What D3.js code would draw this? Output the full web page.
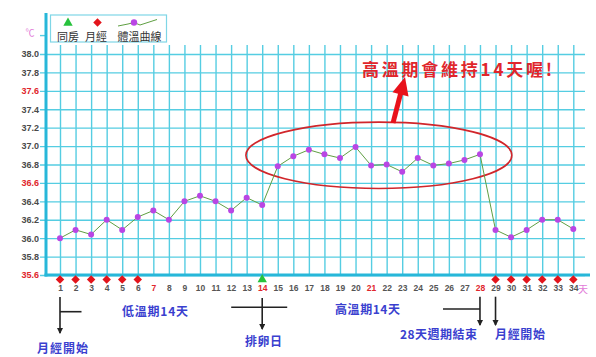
<!DOCTYPE html>
<html>
<head>
<meta charset="utf-8">
<script src="https://cdn.jsdelivr.net/npm/d3@7"></script>
<style>
body{margin:0;background:#fff;}
svg{display:block;}
</style>
</head>
<body>
<svg class="bbt-chart"></svg>
<script>
var days = [1,2,3,4,5,6,7,8,9,10,11,12,13,14,15,16,17,18,19,20,21,22,23,24,25,26,27,28,29,30,31,32,33,34];
var temps = [36.0,36.09,36.04,36.2,36.09,36.23,36.3,36.2,36.4,36.46,36.4,36.3,36.44,36.36,
             36.78,36.89,36.96,36.91,36.87,36.99,36.79,36.8,36.72,36.87,36.79,36.81,36.85,36.91,
             36.09,36.01,36.09,36.2,36.2,36.1];
var mensesDays = [1,2,3,4,5,6,29,30,31,32,33,34];
var intercourseDays = [14];
var yTicks = [35.6,35.8,36.0,36.2,36.4,36.6,36.8,37.0,37.2,37.4,37.6,37.8,38.0];
var redDays = [7,14,21,28];
var redTemps = [35.6,36.6,37.6];
var legendLabels = ["同房","月經","體溫曲線"];

var cfg = {
  width : 596,
  height : 357,
  gridColor : "#55cde2",
  axisColor : "#27b7d9",
  labelColor : "#4a4a4a",
  red : "#e0262c",
  pink : "#e27ad8",
  blue : "#3a3fcf",
  lineColor : "#5f9f42",
  dotColor : "#b946e4",
  numFont : "'Liberation Sans', Arial, sans-serif",
  cjkFont : "'Noto Sans CJK TC', 'Noto Sans CJK SC', sans-serif"
};

var svg = d3.select(".bbt-chart")
  .attr("width", cfg.width)
  .attr("height", cfg.height);

var x = d3.scaleLinear().domain([1, 34]).range([60, 573.3]);
var y = d3.scaleLinear().domain([35.6, 38.0]).range([275, 54]);

//horizontal grid + y labels
var yAxis = d3.axisLeft(y)
  .tickValues(yTicks)
  .tickSizeInner(-(585 - 40))
  .tickSizeOuter(0)
  .tickPadding(1)
  .tickFormat(d3.format(".1f"));
var gy = svg.append("g").attr("transform", "translate(40,0)").call(yAxis);
gy.select(".domain").remove();
gy.selectAll("line").attr("stroke", cfg.gridColor).attr("stroke-width", 1.4);
gy.selectAll("text")
  .attr("font-family", cfg.numFont)
  .attr("font-size", 9)
  .attr("font-weight", "bold")
  .attr("fill", function(d){ return redTemps.indexOf(d) !== -1 ? cfg.red : cfg.labelColor; });

//vertical grid + day labels
var xAxis = d3.axisBottom(x)
  .tickValues(days)
  .tickSizeInner(-(275 - 45))
  .tickSizeOuter(0)
  .tickPadding(10);
var gx = svg.append("g").attr("transform", "translate(0,275)").call(xAxis);
gx.select(".domain").remove();
gx.selectAll("line").attr("stroke", cfg.gridColor).attr("stroke-width", 1.4);
gx.selectAll("text")
  .attr("font-family", cfg.numFont)
  .attr("font-size", 8.5)
  .attr("font-weight", "bold")
  .attr("fill", function(d){ return redDays.indexOf(d) !== -1 ? cfg.red : "#555"; });

svg.append("text")
  .text("天")
  .attr("x", 583).attr("y", 288)
  .attr("text-anchor", "middle").attr("dominant-baseline", "central")
  .attr("font-family", cfg.cjkFont).attr("font-size", 10)
  .attr("fill", cfg.pink);

//unit tick above 38.0
svg.append("line")
  .attr("x1", 40).attr("x2", 46)
  .attr("y1", y(38.2)).attr("y2", y(38.2))
  .attr("stroke", cfg.gridColor).attr("stroke-width", 1.4);
svg.append("text")
  .text("℃")
  .attr("x", 30).attr("y", y(38.2) - 3)
  .attr("text-anchor", "middle").attr("dominant-baseline", "central")
  .attr("font-family", cfg.cjkFont).attr("font-size", 9)
  .attr("fill", cfg.pink);

//main axis lines
svg.append("line")
  .attr("x1", 46).attr("x2", 46).attr("y1", 13).attr("y2", 276.5)
  .attr("stroke", cfg.axisColor).attr("stroke-width", 3);
svg.append("line")
  .attr("x1", 44.5).attr("x2", 590).attr("y1", 275).attr("y2", 275)
  .attr("stroke", cfg.axisColor).attr("stroke-width", 3);

//ellipse around the high phase
svg.append("ellipse")
  .attr("cx", x(21.5)).attr("cy", y(36.9))
  .attr("rx", x(21.5) - x(12.95)).attr("ry", y(36.9) - y(37.26))
  .attr("fill", "none")
  .attr("stroke", "#d1262b").attr("stroke-width", 1.6);

//temperature curve
var line = d3.line()
  .x(function(d, i){ return x(days[i]); })
  .y(function(d){ return y(d); });
svg.append("path")
  .datum(temps)
  .attr("d", line)
  .attr("fill", "none")
  .attr("stroke", cfg.lineColor)
  .attr("stroke-width", 1);
svg.selectAll(".dot")
  .data(temps)
  .enter()
  .append("circle")
  .attr("class", "dot")
  .attr("cx", function(d, i){ return x(days[i]); })
  .attr("cy", function(d){ return y(d); })
  .attr("r", 3)
  .attr("fill", cfg.dotColor);

//menses markers and intercourse marker
var diamond = d3.symbol().type(d3.symbolSquare).size(36);
svg.selectAll(".menses")
  .data(mensesDays)
  .enter()
  .append("path")
  .attr("class", "menses")
  .attr("d", diamond)
  .attr("transform", function(d){ return "translate(" + x(d) + ",279.5) rotate(45)"; })
  .attr("fill", "#e3141b");
var tri = d3.symbol().type(d3.symbolTriangle).size(38);
svg.selectAll(".sex")
  .data(intercourseDays)
  .enter()
  .append("path")
  .attr("class", "sex")
  .attr("d", tri)
  .attr("transform", function(d){ return "translate(" + x(d) + ",279.5)"; })
  .attr("fill", "#27c23c");

//legend
var lg = svg.append("g");
lg.append("rect")
  .attr("x", 50.5).attr("y", 15).attr("width", 116).attr("height", 27)
  .attr("fill", "#fff").attr("stroke", "#7fd6e6").attr("stroke-width", 1.2);
lg.append("path").attr("d", tri).attr("transform", "translate(68,23)").attr("fill", "#27c23c");
lg.append("path").attr("d", diamond).attr("transform", "translate(97.5,22.5) rotate(45)").attr("fill", "#e3141b");
lg.append("path")
  .attr("d", "M118,26 L128,24 L134,22.5 L140,25 L157,19.5")
  .attr("fill", "none").attr("stroke", cfg.lineColor).attr("stroke-width", 1);
lg.append("circle").attr("cx", 134).attr("cy", 22.5).attr("r", 3.2).attr("fill", cfg.dotColor);
var legendX = [68, 96, 139.5];
lg.selectAll(".lg-text")
  .data(legendLabels)
  .enter()
  .append("text")
  .attr("class", "lg-text")
  .text(function(d){ return d; })
  .attr("x", function(d, i){ return legendX[i]; })
  .attr("y", 35.5)
  .attr("text-anchor", "middle").attr("dominant-baseline", "central")
  .attr("font-family", cfg.cjkFont).attr("font-size", 11)
  .attr("fill", "#333");

//red callout
svg.append("text")
  .text("高溫期會維持14天喔!")
  .attr("x", 362).attr("y", 68)
  .attr("dominant-baseline", "central")
  .attr("textLength", 190).attr("lengthAdjust", "spacing")
  .attr("font-family", cfg.cjkFont).attr("font-size", 17).attr("font-weight", "bold")
  .attr("fill", cfg.red);
svg.append("line")
  .attr("x1", 393).attr("y1", 123).attr("x2", 401).attr("y2", 92)
  .attr("stroke", "#e8121b").attr("stroke-width", 5);
svg.append("path")
  .attr("d", "M405,77 L408.5,96.5 L392.5,92.2 Z")
  .attr("fill", "#e8121b");

//bottom annotations
svg.append("defs").append("marker")
  .attr("id", "ah")
  .attr("viewBox", "0 0 6 6")
  .attr("refX", 5).attr("refY", 3)
  .attr("markerWidth", 4).attr("markerHeight", 4)
  .attr("orient", "auto")
  .append("path").attr("d", "M0,0 L6,3 L0,6 Z").attr("fill", "#222");

function arrow(xp, y1, y2){
  svg.append("line")
    .attr("x1", xp).attr("x2", xp).attr("y1", y1).attr("y2", y2)
    .attr("stroke", "#222").attr("stroke-width", 1.6)
    .attr("marker-end", "url(#ah)");
}
function hline(x1, x2, yp){
  svg.append("line")
    .attr("x1", x1).attr("x2", x2).attr("y1", yp).attr("y2", yp)
    .attr("stroke", "#222").attr("stroke-width", 1.6);
}
function note(txt, xp, yp, len){
  svg.append("text")
    .text(txt)
    .attr("x", xp).attr("y", yp)
    .attr("dominant-baseline", "central")
    .attr("textLength", len).attr("lengthAdjust", "spacing")
    .attr("font-family", cfg.cjkFont).attr("font-size", 12).attr("font-weight", "bold")
    .attr("fill", cfg.blue);
}

arrow(x(1), 297, 333);
hline(x(1), x(1) + 21.5, 311.7);
arrow(x(14), 298, 329);
hline(x(14) - 31, x(14) + 25, 307.3);
arrow(x(28), 296.7, 325);
hline(443, x(28), 309);
arrow(x(29), 296.7, 325);

note("月經開始", 37, 347, 51);
note("低溫期14天", 122, 310.5, 66);
note("排卵日", 245, 340.5, 37);
note("高溫期14天", 335, 308, 65);
note("28天週期結束", 400, 333, 77);
note("月經開始", 495, 333, 50);
</script>
</body>
</html>
